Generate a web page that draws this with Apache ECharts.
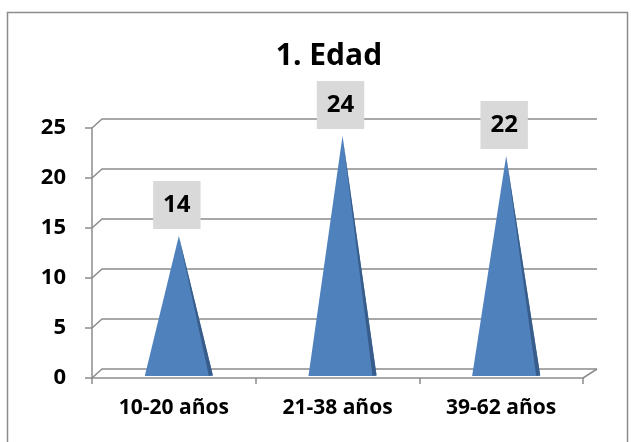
<!DOCTYPE html>
<html>
<head>
<meta charset="utf-8">
<script src="https://cdn.jsdelivr.net/npm/echarts@6/dist/echarts.min.js"></script>
<style>
  html, body { margin: 0; padding: 0; background: #fff; }
  #chart { width: 631px; height: 442px; }
</style>
</head>
<body>
<div id="chart"></div>
<script>
const title = "1. Edad";
const categories = ["10-20 años", "21-38 años", "39-62 años"];
const values = [14, 24, 22];
const yTicks = [0, 5, 10, 15, 20, 25];

const chart = echarts.init(document.getElementById("chart"));
const font = "Open Sans";
const gridColor = "#8c8c8c";
const depth = [10, -9]; // fake 3d offset of the back wall

// back wall lines + little diagonals from the front axis
function renderWall(params, api) {
  const v = api.value(1);
  const band = api.size([1, 0])[0];
  const left = api.coord([0, v]);
  const right = api.coord([categories.length - 1, v]);
  const x0 = left[0] - band / 2;
  const x1 = right[0] + band / 2;
  const y = left[1];
  const pts = [[x0, y], [x0 + depth[0], y + depth[1]], [x1 + depth[0] + 4, y + depth[1]]];
  const children = [{
    type: "polyline",
    shape: { points: pts },
    style: { stroke: gridColor, lineWidth: 1.5, fill: null }
  }];
  if (v === 0) {
    // right edge of the floor
    children.push({
      type: "line",
      shape: { x1: x1, y1: y, x2: x1 + depth[0] + 4, y2: y + depth[1] },
      style: { stroke: gridColor, lineWidth: 1.5 }
    });
  }
  return { type: "group", children: children };
}

// cone drawn as a triangle with a darker sliver on the right
function renderCone(params, api) {
  const top = api.coord([api.value(0), api.value(1)]);
  const base = api.coord([api.value(0), 0]);
  const hw = api.size([1, 0])[0] * 0.208;
  const cx = base[0] + 5;
  const by = base[1] - 2;
  const ay = top[1] - 2;
  return {
    type: "group",
    children: [
      { type: "polygon", shape: { points: [[cx, ay], [cx - hw, by], [cx + hw, by]] }, style: { fill: "#4f81bd" } },
      { type: "polygon", shape: { points: [[cx, ay], [cx + hw - 4, by], [cx + hw, by - 1]] }, style: { fill: "#385d8a" } }
    ]
  };
}

const option = {
  animation: false,
  backgroundColor: "#fff",
  graphic: [{
    type: "rect",
    shape: { x: 7.5, y: 12.5, width: 620, height: 440 },
    style: { stroke: "#8c8c8c", lineWidth: 1.5, fill: null },
    silent: true
  }],
  title: {
    text: title,
    left: 324,
    top: 36,
    textAlign: "center",
    textStyle: { fontFamily: font, fontWeight: "bold", fontSize: 30, color: "#000" }
  },
  grid: { left: 92, right: 48, top: 128, bottom: 64 },
  xAxis: {
    type: "category",
    data: categories,
    axisLine: { lineStyle: { color: gridColor, width: 1.5 } },
    axisTick: { show: true, length: 6, lineStyle: { color: gridColor, width: 1.5 } },
    axisLabel: { fontFamily: font, fontWeight: "bold", fontSize: 21, color: "#000", margin: 20 }
  },
  yAxis: {
    type: "value",
    min: 0,
    max: 25,
    interval: 5,
    splitLine: { show: false },
    axisLine: { show: true, lineStyle: { color: gridColor, width: 1.5 } },
    axisTick: { show: true, length: 7, lineStyle: { color: gridColor, width: 1.5 } },
    axisLabel: { fontFamily: font, fontWeight: "bold", fontSize: 22, color: "#000", margin: 26 }
  },
  series: [
    {
      type: "custom",
      renderItem: renderWall,
      data: yTicks.map(v => [0, v]),
      encode: { x: 0, y: 1 },
      clip: false,
      silent: true,
      z: 1
    },
    {
      type: "custom",
      renderItem: renderCone,
      data: values.map((v, i) => [i, v]),
      encode: { x: 0, y: 1 },
      clip: false,
      z: 3
    },
    {
      type: "bar",
      data: values,
      barWidth: 1,
      itemStyle: { color: "rgba(0,0,0,0)" },
      z: 4,
      label: {
        show: true,
        position: "top",
        distance: 9,
        offset: [3, 0],
        fontFamily: font,
        fontWeight: "bold",
        fontSize: 24,
        color: "#000",
        backgroundColor: "#d9d9d9",
        lineHeight: 26,
        padding: [11, 10, 11, 10]
      }
    }
  ]
};
chart.setOption(option);
</script>
</body>
</html>
